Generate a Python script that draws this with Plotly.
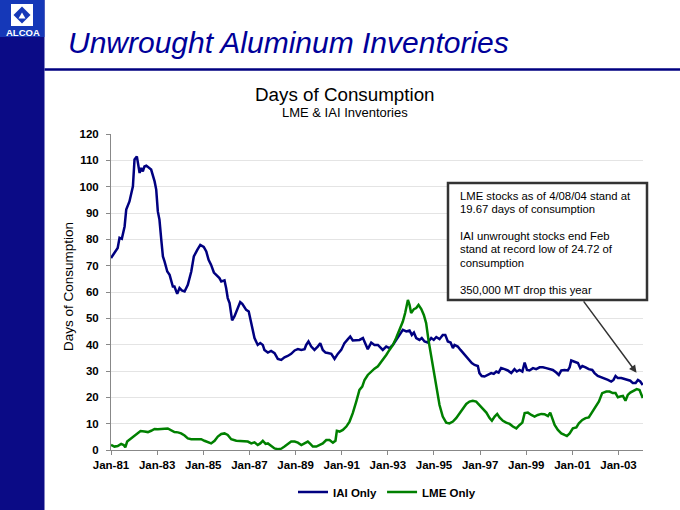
import plotly.graph_objects as go

# ---------------- data ----------------
iai_t = [1981.0, 1981.15, 1981.29, 1981.37, 1981.47, 1981.59, 1981.66, 1981.80, 1981.95, 1982.02,
         1982.12, 1982.24, 1982.31, 1982.38, 1982.45, 1982.53, 1982.67, 1982.74, 1982.89, 1982.96,
         1983.03, 1983.10, 1983.18, 1983.25, 1983.32, 1983.44, 1983.54, 1983.68, 1983.75, 1983.87,
         1983.97, 1984.07, 1984.19, 1984.33, 1984.48, 1984.59, 1984.74, 1984.87, 1985.02, 1985.13,
         1985.23, 1985.34, 1985.46, 1985.60, 1985.70, 1985.78, 1985.92, 1985.99, 1986.06, 1986.14,
         1986.25, 1986.35, 1986.50, 1986.60, 1986.69, 1986.86, 1986.97, 1987.08, 1987.22, 1987.36,
         1987.47, 1987.58, 1987.65, 1987.80, 1987.94, 1988.09, 1988.23, 1988.38, 1988.52, 1988.66,
         1988.81, 1988.96, 1989.10, 1989.25, 1989.39, 1989.46, 1989.56, 1989.68, 1989.82, 1989.97,
         1990.07, 1990.18, 1990.30, 1990.40, 1990.55, 1990.69, 1990.83, 1990.98, 1991.12, 1991.27,
         1991.37, 1991.48, 1991.63, 1991.77, 1991.92, 1992.03, 1992.13, 1992.28, 1992.42, 1992.57,
         1992.64, 1992.78, 1992.93, 1993.07, 1993.22, 1993.36, 1993.51, 1993.65, 1993.80, 1993.94,
         1994.04, 1994.13, 1994.23, 1994.37, 1994.47, 1994.59, 1994.73, 1994.88, 1994.99, 1995.10,
         1995.24, 1995.38, 1995.49, 1995.60, 1995.72, 1995.82, 1995.89, 1996.03, 1996.15, 1996.25,
         1996.40, 1996.54, 1996.64, 1996.76, 1996.90, 1996.97, 1997.07, 1997.19, 1997.33, 1997.48,
         1997.59, 1997.70, 1997.80, 1997.91, 1998.06, 1998.20, 1998.35, 1998.49, 1998.59, 1998.71,
         1998.83, 1998.93, 1999.03, 1999.14, 1999.29, 1999.43, 1999.58, 1999.72, 1999.87, 2000.01,
         2000.15, 2000.30, 2000.41, 2000.52, 2000.66, 2000.80, 2000.88, 2000.95, 2001.09, 2001.24,
         2001.34, 2001.43, 2001.57, 2001.71, 2001.86, 2001.96, 2002.10, 2002.25, 2002.39, 2002.54,
         2002.68, 2002.78, 2002.87, 2002.97, 2003.12, 2003.26, 2003.40, 2003.51, 2003.62, 2003.74,
         2003.84, 2003.94, 2004.05]
iai_days = [72.9, 74.9, 76.7, 80.6, 80.2, 84.9, 91.3, 94.4, 100.1, 110.3,
            111.5, 105.2, 107.1, 105.8, 107.7, 108.0, 107.1, 106.5, 102.0, 98.9,
            90.6, 87.5, 79.8, 73.5, 71.6, 67.8, 66.5, 62.1, 62.1, 59.3,
            61.5, 60.6, 60.2, 62.7, 67.8, 73.5, 76.0, 77.9, 77.1, 75.4,
            72.2, 70.3, 67.4, 66.2, 65.3, 64.0, 64.4, 61.5, 57.7, 55.8,
            49.2, 50.7, 53.9, 56.2, 55.5, 53.2, 52.6, 48.2, 42.5, 39.9,
            40.6, 39.9, 38.0, 37.0, 37.6, 36.8, 34.6, 34.2, 35.2, 35.7,
            36.5, 37.8, 38.3, 38.0, 38.3, 39.9, 41.2, 39.3, 38.0, 39.3,
            40.6, 38.0, 37.0, 36.8, 36.5, 34.6, 36.5, 38.0, 40.6, 42.1,
            43.1, 41.6, 41.8, 41.8, 42.5, 40.6, 38.3, 40.8, 39.9, 39.9,
            39.3, 38.0, 39.3, 38.7, 39.9, 41.8, 43.7, 45.6, 45.0, 45.4,
            43.7, 44.6, 42.5, 41.8, 42.5, 41.2, 40.8, 42.5, 41.8, 42.9,
            42.1, 43.7, 43.7, 41.2, 40.8, 38.7, 39.9, 39.3, 38.0, 37.0,
            35.5, 34.2, 33.0, 32.3, 31.9, 29.2, 28.1, 27.9, 28.5, 29.2,
            28.9, 29.8, 29.4, 31.1, 30.7, 30.2, 29.2, 30.7, 29.8, 30.4,
            29.8, 33.2, 30.4, 30.2, 31.1, 30.7, 31.4, 31.4, 31.1, 30.7,
            30.4, 29.4, 28.5, 30.2, 30.4, 30.2, 31.4, 34.0, 33.6, 33.0,
            31.1, 31.9, 31.4, 30.7, 30.4, 29.2, 28.1, 27.6, 27.3, 26.6,
            26.0, 26.6, 28.1, 27.3, 27.3, 26.9, 26.6, 26.3, 25.4, 25.4,
            26.6, 26.0, 24.7]

lme_t = [1981.0, 1981.15, 1981.29, 1981.44, 1981.55, 1981.62, 1981.70, 1981.88, 1982.02, 1982.16,
         1982.28, 1982.45, 1982.60, 1982.74, 1982.89, 1983.03, 1983.18, 1983.32, 1983.46, 1983.61,
         1983.75, 1983.90, 1984.04, 1984.19, 1984.33, 1984.48, 1984.62, 1984.76, 1984.91, 1985.05,
         1985.20, 1985.34, 1985.49, 1985.63, 1985.78, 1985.92, 1986.06, 1986.21, 1986.43, 1986.71,
         1986.93, 1987.08, 1987.22, 1987.36, 1987.47, 1987.58, 1987.70, 1987.80, 1987.94, 1988.09,
         1988.23, 1988.38, 1988.52, 1988.66, 1988.81, 1988.96, 1989.10, 1989.25, 1989.39, 1989.53,
         1989.64, 1989.75, 1989.90, 1990.04, 1990.18, 1990.33, 1990.47, 1990.62, 1990.73, 1990.79,
         1990.91, 1991.05, 1991.20, 1991.34, 1991.48, 1991.63, 1991.77, 1991.89, 1991.99, 1992.13,
         1992.28, 1992.42, 1992.57, 1992.78, 1992.93, 1993.07, 1993.22, 1993.36, 1993.51, 1993.65,
         1993.75, 1993.87, 1993.94, 1994.01, 1994.13, 1994.23, 1994.33, 1994.45, 1994.56, 1994.66,
         1994.76, 1994.88, 1994.99, 1995.10, 1995.24, 1995.38, 1995.53, 1995.67, 1995.82, 1995.96,
         1996.11, 1996.25, 1996.40, 1996.54, 1996.68, 1996.83, 1996.97, 1997.12, 1997.27, 1997.41,
         1997.51, 1997.63, 1997.74, 1997.84, 1997.99, 1998.13, 1998.28, 1998.42, 1998.57, 1998.71,
         1998.83, 1998.93, 1999.07, 1999.22, 1999.36, 1999.50, 1999.65, 1999.79, 1999.94, 2000.04,
         2000.13, 2000.23, 2000.37, 2000.52, 2000.66, 2000.76, 2000.88, 2001.02, 2001.17, 2001.28,
         2001.43, 2001.57, 2001.71, 2001.86, 2002.00, 2002.15, 2002.29, 2002.47, 2002.61, 2002.75,
         2002.87, 2002.97, 2003.07, 2003.19, 2003.30, 2003.40, 2003.51, 2003.65, 2003.79, 2003.91,
         2003.98, 2004.05]
lme_days = [1.9, 1.3, 1.5, 2.3, 1.9, 1.0, 3.2, 4.4, 5.3, 6.1,
            7.2, 7.0, 6.8, 7.3, 8.0, 7.9, 7.9, 8.1, 8.2, 7.6,
            6.8, 6.7, 6.3, 5.5, 4.4, 4.1, 4.1, 4.1, 4.1, 3.5,
            3.0, 2.5, 3.5, 5.1, 6.1, 6.3, 5.7, 4.1, 3.5, 3.4,
            3.2, 2.5, 2.9, 1.9, 2.5, 3.5, 2.3, 2.5, 1.5, 0.6,
            0.3, 0.5, 1.3, 2.3, 3.2, 3.2, 2.8, 1.9, 2.5, 3.2,
            2.3, 1.3, 1.3, 1.9, 2.5, 3.8, 3.8, 2.8, 3.5, 7.3,
            7.0, 7.6, 8.9, 10.8, 14.0, 18.4, 22.8, 24.1, 26.6, 28.5,
            29.8, 30.9, 31.8, 34.2, 36.1, 38.0, 39.9, 42.5, 45.6, 48.8,
            52.0, 57.0, 55.1, 52.0, 53.5, 53.9, 55.1, 53.5, 51.3, 48.2,
            41.8, 35.5, 29.2, 22.8, 17.1, 12.7, 10.4, 10.1, 10.8, 12.1,
            14.0, 15.9, 17.5, 18.4, 18.7, 18.4, 17.1, 15.9, 14.2, 12.1,
            11.1, 12.7, 13.7, 12.4, 11.1, 10.4, 9.9, 8.9, 8.2, 9.5,
            10.4, 14.0, 14.2, 13.3, 12.7, 13.3, 13.7, 13.6, 12.9, 14.2,
            12.1, 9.5, 7.6, 6.3, 5.7, 5.3, 6.3, 8.2, 8.6, 10.1,
            11.4, 12.1, 12.4, 14.6, 16.5, 18.4, 21.6, 22.2, 22.2, 21.6,
            21.6, 20.0, 20.3, 20.5, 18.7, 20.9, 21.8, 22.5, 23.1, 22.8,
            20.9, 19.7]

x_tick_vals = [1981, 1983, 1985, 1987, 1989, 1991, 1993, 1995, 1997, 1999, 2001, 2003]
x_tick_text = ["Jan-81", "Jan-83", "Jan-85", "Jan-87", "Jan-89", "Jan-91",
               "Jan-93", "Jan-95", "Jan-97", "Jan-99", "Jan-01", "Jan-03"]
y_tick_vals = [0, 10, 20, 30, 40, 50, 60, 70, 80, 90, 100, 110, 120]

page_title = "Unwrought Aluminum Inventories"
chart_title = "Days of Consumption"
chart_subtitle = "LME & IAI Inventories"
y_title = "Days of Consumption"
note_lines = ["LME stocks as of 4/08/04 stand at", "19.67 days of consumption", "",
              "IAI unwrought stocks end Feb", "stand at record low of 24.72 of",
              "consumption", "", "350,000 MT drop this year"]
arrow_tip = (2003.78, 29.3)

# ---------------- layout helpers ----------------
W, H = 680, 510
L, R, T, B = 111, 37, 134, 60
PW, PH = W - L - R, H - T - B


def px(x):
    return (x - L) / PW


def py(y):
    return (H - B - y) / PH


FONT = "Liberation Sans, Arial, sans-serif"
NAVY = "#000080"
GREEN = "#008000"

fig = go.Figure()
fig.add_trace(go.Scatter(x=iai_t, y=iai_days, mode="lines", name="IAI Only",
                         line=dict(color=NAVY, width=2.5)))
fig.add_trace(go.Scatter(x=lme_t, y=lme_days, mode="lines", name="LME Only",
                         line=dict(color=GREEN, width=2.5)))

shapes = []
# left vertical band and logo
shapes.append(dict(type="rect", xref="paper", yref="paper", x0=px(0), x1=px(44.5),
                   y0=py(H), y1=py(0), fillcolor="#0b0b86", line=dict(width=0), layer="above"))
shapes.append(dict(type="rect", xref="paper", yref="paper", x0=px(0), x1=px(44.5),
                   y0=py(37), y1=py(0), fillcolor="#1538b8", line=dict(width=0), layer="above"))
shapes.append(dict(type="rect", xref="paper", yref="paper", x0=px(11), x1=px(33),
                   y0=py(26), y1=py(4), fillcolor="white", line=dict(width=0), layer="above"))


def path(points):
    return "M " + " L ".join(f"{px(a):.5f},{py(b):.5f}" for a, b in points) + " Z"


shapes.append(dict(type="path", xref="paper", yref="paper",
                   path=path([(22, 6.5), (30.5, 15), (22, 23.5), (13.5, 15)]),
                   fillcolor="#1538b8", line=dict(width=0), layer="above"))
shapes.append(dict(type="path", xref="paper", yref="paper",
                   path=path([(22, 12.5), (25.5, 18.5), (18.5, 18.5)]),
                   fillcolor="white", line=dict(width=0), layer="above"))
# title rule
shapes.append(dict(type="line", xref="paper", yref="paper", x0=px(44.5), x1=px(W),
                   y0=py(69.5), y1=py(69.5), line=dict(color=NAVY, width=2.5), layer="above"))
# note box
shapes.append(dict(type="rect", xref="paper", yref="paper", x0=px(448), x1=px(647),
                   y0=py(300), y1=py(183), fillcolor="white",
                   line=dict(color="#333333", width=2.5), layer="above"))

annotations = []
annotations.append(dict(text="ALCOA", xref="paper", yref="paper", x=px(22.5), y=py(32),
                        xanchor="center", yanchor="middle", showarrow=False,
                        font=dict(family=FONT, size=9.5, color="white", weight="bold")))
annotations.append(dict(text=page_title, xref="paper", yref="paper", x=px(66), y=py(42),
                        xanchor="left", yanchor="middle", showarrow=False,
                        font=dict(family=FONT, size=30, color="#000099", style="italic")))
annotations.append(dict(text=chart_title, xref="paper", yref="paper", x=px(345), y=py(94),
                        xanchor="center", yanchor="middle", showarrow=False,
                        font=dict(family=FONT, size=18.8, color="black")))
annotations.append(dict(text=chart_subtitle, xref="paper", yref="paper", x=px(345), y=py(112.5),
                        xanchor="center", yanchor="middle", showarrow=False,
                        font=dict(family=FONT, size=13, color="black")))
annotations.append(dict(text=y_title, xref="paper", yref="paper", x=px(68), y=py(287),
                        xanchor="center", yanchor="middle", showarrow=False, textangle=-90,
                        font=dict(family=FONT, size=13.5, color="black")))
for k, line in enumerate(note_lines):
    if not line:
        continue
    annotations.append(dict(text=line, xref="paper", yref="paper", x=px(457.5),
                            y=py(195.7 + 13.4 * k), xanchor="left", yanchor="middle",
                            showarrow=False, font=dict(family=FONT, size=11.3, color="black")))
annotations.append(dict(text="", x=arrow_tip[0], y=arrow_tip[1], xref="x", yref="y",
                        ax=-54, ay=-73, showarrow=True, arrowhead=2, arrowsize=1,
                        arrowwidth=1.5, arrowcolor="#333333"))

fig.update_layout(
    width=W, height=H, autosize=False,
    margin=dict(l=L, r=R, t=T, b=B, pad=0, autoexpand=False),
    paper_bgcolor="white", plot_bgcolor="white",
    font=dict(family=FONT, color="black"),
    showlegend=True,
    legend=dict(orientation="h", xref="container", yref="container",
                x=387 / W, xanchor="center", y=(H - 492) / H, yanchor="middle",
                font=dict(family=FONT, size=11.5, color="black", weight="bold"),
                bgcolor="rgba(0,0,0,0)"),
    xaxis=dict(range=[1981.0, 2004.06], tickmode="array", tickvals=x_tick_vals,
               ticktext=x_tick_text, ticks="outside", ticklen=4, tickcolor="#888888",
               showline=True, linecolor="#888888", linewidth=1, showgrid=False, zeroline=False,
               automargin=False,
               tickfont=dict(family=FONT, size=11.5, color="black", weight="bold")),
    yaxis=dict(range=[0, 120], tickmode="array", tickvals=y_tick_vals, ticks="outside",
               ticklen=4, tickcolor="#888888", showline=True, linecolor="#888888", linewidth=1,
               showgrid=True, gridcolor="#e4e4e4", gridwidth=1, zeroline=False,
               ticklabelstandoff=5, automargin=False,
               tickfont=dict(family=FONT, size=11.5, color="black", weight="bold")),
    shapes=shapes,
    annotations=annotations,
)

fig.write_html("out.html", config={"displayModeBar": False},
               post_script="document.body.style.margin='0';"
                           "document.body.style.padding='0';"
                           "document.body.style.overflow='hidden';")
